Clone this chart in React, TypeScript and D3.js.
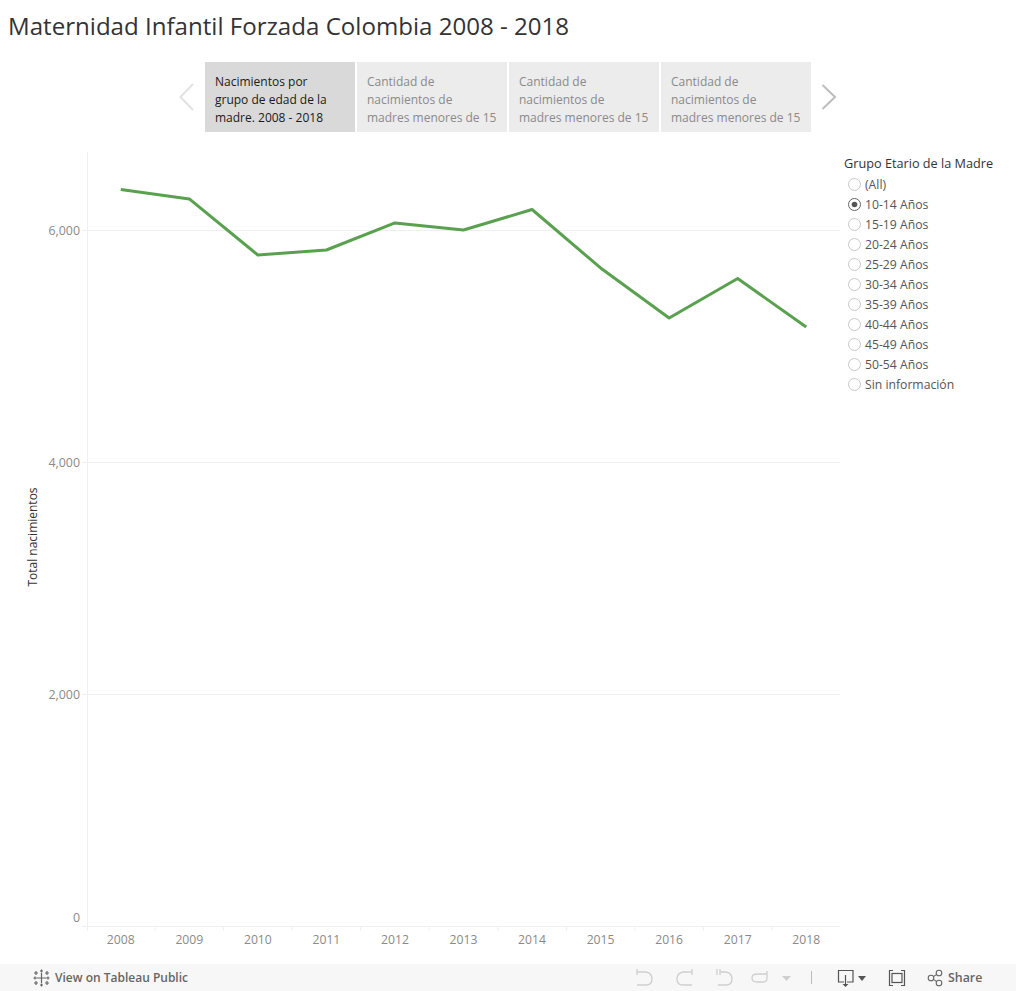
import React, { useEffect, useRef } from 'react';
import * as d3 from 'd3';

const years = ['2008', '2009', '2010', '2011', '2012', '2013', '2014', '2015', '2016', '2017', '2018'];
const births = [6353, 6272, 5789, 5832, 6065, 6004, 6181, 5677, 5246, 5586, 5168];
const yTicks = [0, 2000, 4000, 6000];
const storyTabs = [
  ['Nacimientos por', 'grupo de edad de la', 'madre. 2008 - 2018'],
  ['Cantidad de', 'nacimientos de', 'madres menores de 15'],
  ['Cantidad de', 'nacimientos de', 'madres menores de 15'],
  ['Cantidad de', 'nacimientos de', 'madres menores de 15'],
];
const ageGroups = ['(All)', '10-14 Años', '15-19 Años', '20-24 Años', '25-29 Años', '30-34 Años', '35-39 Años', '40-44 Años', '45-49 Años', '50-54 Años', 'Sin información'];
const selectedGroup = '10-14 Años';

const FONT = "'Open Sans', sans-serif";

const App: React.FC = () => {
  const svgRef = useRef<SVGSVGElement>(null);

  useEffect(() => {
    if (!svgRef.current) return;
    const svg = d3.select(svgRef.current);
    svg.selectAll('*').remove();
    svg.style('font-family', FONT);

    const x = d3.scaleBand<string>().domain(years).range([86.5, 840.5]);
    const y = d3.scaleLinear().domain([0, 6000]).range([926.5, 230.5]);

    // Title
    svg.append('text').attr('x', 8).attr('y', 35).attr('font-size', 24.1).attr('fill', '#333').text('Maternidad Infantil Forzada Colombia 2008 - 2018');

    // Story tabs
    storyTabs.forEach((lines, i) => {
      const tx = 205 + i * 152;
      svg.append('rect').attr('x', tx).attr('y', 62).attr('width', 150).attr('height', 70).attr('fill', i === 0 ? '#d9d9d9' : '#ececec');
      lines.forEach((line, j) => {
        svg.append('text').attr('x', tx + 10).attr('y', 86 + j * 18).attr('font-size', 12).attr('fill', i === 0 ? '#1a1a1a' : '#8a8a8a').text(line);
      });
    });
    svg.append('path').attr('d', 'M193,84 L180.5,97 L193,110').attr('fill', 'none').attr('stroke', '#e2e2e2').attr('stroke-width', 2);
    svg.append('path').attr('d', 'M822.5,85 L835,97 L822.5,109').attr('fill', 'none').attr('stroke', '#bdbdbd').attr('stroke-width', 2);

    // Gridlines and axes
    const grid = svg.append('g');
    grid.selectAll('line').data(yTicks.filter(d => d > 0)).enter().append('line')
      .attr('x1', 82).attr('x2', 840).attr('y1', d => y(d)).attr('y2', d => y(d))
      .attr('stroke', '#efefef');
    svg.append('line').attr('x1', 87.5).attr('x2', 87.5).attr('y1', 152).attr('y2', 931).attr('stroke', '#f0f0f0');
    svg.append('line').attr('x1', 82).attr('x2', 840).attr('y1', 926.5).attr('y2', 926.5).attr('stroke', '#efefef');

    svg.selectAll('.y-label').data(yTicks).enter().append('text')
      .attr('class', 'y-label')
      .attr('x', 80).attr('y', d => (d === 0 ? y(d) - 4.5 : y(d) + 4.5))
      .attr('text-anchor', 'end').attr('font-size', 12.4).attr('fill', '#8a8a8a')
      .text(d => d3.format(',')(d));

    svg.selectAll('.x-tick').data(years).enter().append('line')
      .attr('class', 'x-tick')
      .attr('x1', d => x(d)! + x.bandwidth()).attr('x2', d => x(d)! + x.bandwidth())
      .attr('y1', 926.5).attr('y2', 931)
      .attr('stroke', d => (d === '2018' ? 'none' : '#f0f0f0'));

    svg.selectAll('.x-label').data(years).enter().append('text')
      .attr('class', 'x-label')
      .attr('x', d => x(d)! + x.bandwidth() / 2).attr('y', 944)
      .attr('text-anchor', 'middle').attr('font-size', 12.2).attr('fill', '#8a8a8a')
      .text(d => d);

    svg.append('text')
      .attr('transform', 'translate(37,537) rotate(-90)')
      .attr('text-anchor', 'middle').attr('font-size', 12).attr('fill', '#333')
      .text('Total nacimientos');

    // Line
    const line = d3.line<number>()
      .x((_, i) => x(years[i])! + x.bandwidth() / 2)
      .y(d => y(d));
    svg.append('path').datum(births)
      .attr('d', line)
      .attr('fill', 'none').attr('stroke', '#59a14f').attr('stroke-width', 3).attr('stroke-linejoin', 'round');

    // Filter
    svg.append('text').attr('x', 844).attr('y', 168).attr('font-size', 12.7).attr('fill', '#333').text('Grupo Etario de la Madre');
    ageGroups.forEach((g, i) => {
      const cy = 184.5 + i * 20;
      svg.append('circle').attr('cx', 854.5).attr('cy', cy).attr('r', 6).attr('fill', '#fff')
        .attr('stroke', g === selectedGroup ? '#666' : '#c8c8c8').attr('stroke-width', 1);
      if (g === selectedGroup) svg.append('circle').attr('cx', 854.5).attr('cy', cy).attr('r', 2.8).attr('fill', '#555');
      svg.append('text').attr('x', 865).attr('y', cy + 4.5).attr('font-size', 12.2).attr('fill', '#555').text(g);
    });

    // Tableau toolbar
    svg.append('rect').attr('x', 0).attr('y', 964).attr('width', 1016).attr('height', 27).attr('fill', '#f7f7f7');
    const bar = svg.append('g').attr('fill', 'none');
    const logo = bar.append('g').attr('stroke', '#666').attr('stroke-width', 1.2);
    [[41.5, 978, 5], [36, 973, 2], [47, 973, 2], [36, 983, 2], [47, 983, 2], [35, 978, 1.5], [48, 978, 1.5], [41.5, 971, 1.5], [41.5, 985, 1.5]].forEach(([cx, cy, r]) => {
      logo.append('path').attr('d', `M${cx - r},${cy} H${cx + r} M${cx},${cy - r} V${cy + r}`);
    });
    svg.append('text').attr('x', 55).attr('y', 982).attr('font-size', 12).attr('font-weight', 600).attr('fill', '#666').text('View on Tableau Public');

    const undoGray = '#cfcfcf';
    bar.append('path').attr('d', 'M637,969 V975 M637,972 H646 Q652,973 652,979 Q652,985 646,985 H637').attr('stroke', undoGray).attr('stroke-width', 1.3);
    bar.append('path').attr('d', 'M692,972 H683 Q677,973 677,979 Q677,985 683,985 H692 M692,969 V975').attr('stroke', undoGray).attr('stroke-width', 1.3);
    bar.append('path').attr('d', 'M717,969 V975 M720,969 V975 M720,972 H726 Q732,973 732,979 Q732,985 726,985 H718').attr('stroke', undoGray).attr('stroke-width', 1.3);
    bar.append('path').attr('d', 'M767,974 H757 Q752,974 752,978 Q752,982 757,982 H763 Q767,982 767,978 V971').attr('stroke', undoGray).attr('stroke-width', 1.3);
    svg.append('path').attr('d', 'M782,976 H791 L786.5,981 Z').attr('fill', undoGray);
    svg.append('line').attr('x1', 811.5).attr('x2', 811.5).attr('y1', 971).attr('y2', 984).attr('stroke', '#bbb');

    bar.append('path').attr('d', 'M844,982 H838.5 V970.5 H853 V982 H847 M845.5,975 V985').attr('stroke', '#555').attr('stroke-width', 1.2);
    svg.append('path').attr('d', 'M842.5,984 H848.5 L845.5,987 Z').attr('fill', '#555');
    svg.append('path').attr('d', 'M858,976 H866 L862,981 Z').attr('fill', '#555');

    bar.append('path').attr('d', 'M893,970.5 H889.5 V985.5 H893 M901,970.5 H904.5 V985.5 H901').attr('stroke', '#555').attr('stroke-width', 1.2);
    bar.append('rect').attr('x', 892).attr('y', 973.5).attr('width', 10).attr('height', 9).attr('stroke', '#555').attr('stroke-width', 1.2);

    bar.append('circle').attr('cx', 931).attr('cy', 978).attr('r', 2.8).attr('stroke', '#666').attr('stroke-width', 1.1);
    bar.append('circle').attr('cx', 939).attr('cy', 973).attr('r', 2.8).attr('stroke', '#666').attr('stroke-width', 1.1);
    bar.append('circle').attr('cx', 939).attr('cy', 983).attr('r', 2.8).attr('stroke', '#666').attr('stroke-width', 1.1);
    bar.append('path').attr('d', 'M933.5,976.6 L936.6,974.4 M933.5,979.4 L936.6,981.6').attr('stroke', '#666').attr('stroke-width', 1.1);
    svg.append('text').attr('x', 948).attr('y', 982).attr('font-size', 12.4).attr('font-weight', 600).attr('fill', '#666').text('Share');
  }, []);

  return <svg ref={svgRef} width={1016} height={991} style={{ position: 'absolute', left: 0, top: 0, background: '#fff' }} />;
};

export default App;
